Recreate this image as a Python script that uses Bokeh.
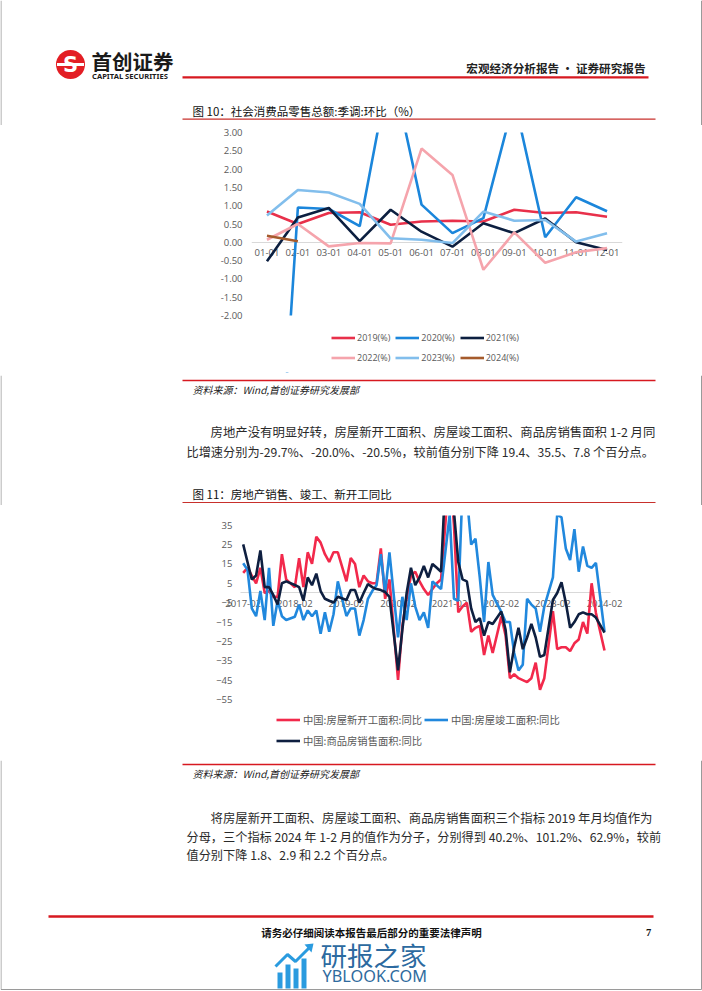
from bokeh.plotting import figure
from bokeh.models import (Range1d, FactorRange, FixedTicker, Legend, LegendItem,
                          ColumnDataSource, PrintfTickFormatter, BoxAnnotation)
from bokeh.layouts import column
from bokeh.embed import file_html
from bokeh.resources import INLINE
from bokeh.core.properties import value

W = 702
CJK = "Noto Sans CJK SC"
LAT = "Open Sans"
GRAY = "#595959"
RED = "#D71920"

# ---------------- Chart 1 data: 社会消费品零售总额:季调:环比 (%) ----------------
months1 = ["01-01", "02-01", "03-01", "04-01", "05-01", "06-01",
           "07-01", "08-01", "09-01", "10-01", "11-01", "12-01"]
y1_ticks = [-2.0, -1.5, -1.0, -0.5, 0.0, 0.5, 1.0, 1.5, 2.0, 2.5, 3.0]
s2019 = [0.84, 0.50, 0.80, 0.82, 0.48, 0.57, 0.59, 0.57, 0.89, 0.80, 0.82, 0.70]
s2020 = [-12.0, 0.95, 0.91, 0.44, 4.90, 1.03, 0.25, 0.66, 3.90, 0.14, 1.23, 0.85]
s2021 = [-0.52, 0.68, 0.94, 0.03, 0.89, 0.29, -0.12, 0.52, 0.25, 0.65, 0.00, -0.21]
s2022 = [0.07, 0.50, -0.11, -0.02, -0.03, 2.56, 1.84, -0.75, 0.27, -0.56, -0.27, -0.16]
s2023 = [0.73, 1.43, 1.36, 1.05, 0.11, 0.07, -0.02, 0.84, 0.59, 0.61, 0.02, 0.25]
s2024 = [0.18, 0.03]
names1 = ["2019(%)", "2020(%)", "2021(%)", "2022(%)", "2023(%)", "2024(%)"]
colors1 = ["#E8304A", "#1B86DB", "#0C1F40", "#F5A4AC", "#82BEEC", "#A55B2C"]

# ---------------- Chart 2 data: 房地产销售、竣工、新开工同比 (%) ----------------
# monthly periods, January merged into February (no January points)
periods2 = [f"{y}-{m:02d}" for y in range(2017, 2024) for m in range(2, 13)] + ["2024-02"]
x2_labels = ["2017-02", "2018-02", "2019-02", "2020-02", "2021-02", "2022-02", "2023-02", "2024-02"]
y2_ticks = [-55, -45, -35, -25, -15, -5, 5, 15, 25, 35]
new_start = [
    10.4, 13, 9, 5, 13, 0, 1, -2, -2, 20, 7,            # 2017
    2.9, 18, 3, 21, 15, 29, 26, 20, 16, 21, 21,         # 2018
    6.0, 18, 15, 3, 9, 6, 5, 5, 23, -3, 7,              # 2019
    -44.9, -17, -3, 9, 11, 6, 2, -1, 2, 5, 7,           # 2020
    64.3, 35, -10, -7, -5, -20, -18, -17, -32, -22, -31,  # 2021
    -12.2, -22, -44, -42, -44, -45, -46, -44, -36, -50, -44,  # 2022
    -9.4, -29, -28, -28, -30, -26, -24, -15, -21, 5, -10.3,   # 2023
    -29.7]                                              # 2024
completed = [
    15.3, 12, -8, -12, 1, -14, 13, -17, -4, -12, -14,
    -12.3, -6, -14, -9, -12, -9, -21, -10, -20, -11, 6,
    -11.9, -8, -8, -22, -14, -3, 1, 4, 20, 0, 21,
    -22.9, -2, -14, 5, -7, -14, -10, -18, 6, 4, 2,
    40.4, -3, -4, 55, 50, 25, 28, 8, -15, 16, -1,
    -9.8, -15, -15, -31, -40, -37, -3, -6, -8, -20, -7,
    8.0, 40.5, 39, 23, 17, 33, 11, 24, 14, 13, 15.5,
    -20.0]
sales = [
    25.1, 16, 7, 9, 22, 3, 3, -1, -6, 5, 6,
    4.1, 3, -4, 8, 4, 10, 1, -3, -4, -5, -2,
    -3.6, 1.5, 1.5, -5, 0, 4.6, 3, 2, 1.5, 0.5, -2,
    -39.9, -19, 0, 13, 4, 8, 14, 8, 15, 13, 11,
    104.9, 42, 16, 7, 6, -8, -15, -13, -22, -15, -16,
    -9.6, -19, -41, -28, -18, -29, -23, -16, -23, -33, -32,
    -3.6, 0, 5.5, -5, -18, -15, -11, -10, -11, -11, -12.7,
    -20.5]
names2 = ["中国:房屋新开工面积:同比", "中国:房屋竣工面积:同比", "中国:商品房销售面积:同比"]
colors2 = ["#F2294B", "#2188DD", "#0E1F40"]


def month_pos(p):
    return (int(p[:4]) - 2017) * 12 + int(p[5:7]) - 2


# ---------------- helpers for page decoration ----------------
def decor(top, height):
    p = figure(width=W, height=height, x_range=Range1d(0, W),
               y_range=Range1d(top + height, top), output_backend="svg",
               toolbar_location=None, min_border=0, x_axis_type=None, y_axis_type=None,
               frame_align=False)
    p.outline_line_color = None
    p.background_fill_color = "white"
    p.border_fill_color = "white"
    return p


def txt(p, x, y, s, size, color="#111111", font=CJK, style="normal", align="left"):
    p.text(x=[x], y=[y], text=[s], text_font=value(font), text_font_size=f"{size}px",
           text_font_style=style, text_color=color, text_align=align,
           text_baseline="middle")


def hline(p, x0, x1, y, color, width):
    p.segment(x0=[x0], y0=[y], x1=[x1], y1=[y], line_color=color, line_width=width)


def borders(p, y0, y1):
    p.segment(x0=[0.5, 701.0], y0=[y0, y0], x1=[0.5, 701.0], y1=[y1, y1],
              line_color="#9a9a9a", line_width=1)


def style_axis(ax, standoff):
    ax.major_tick_line_color = None
    ax.minor_tick_line_color = None
    ax.major_tick_out = 0
    ax.major_tick_in = 0
    ax.minor_tick_out = 0
    ax.minor_tick_in = 0
    ax.major_label_text_color = GRAY
    ax.major_label_text_font = LAT
    ax.major_label_text_font_size = "9.5px"
    ax.major_label_standoff = standoff


# ---------------- F0: header ----------------
f0 = decor(0, 125)
borders(f0, 0, 125)
f0.circle(x=[70], y=[64], radius=14.5, fill_color="#E31E24", line_color=None)
f0.quad(left=[56.5], right=[83.5], top=[62.6], bottom=[65.4], fill_color="white", line_color=None)
txt(f0, 70, 64.5, "S", 21, color="white", font="DejaVu Sans", style="bold", align="center")
txt(f0, 91, 60, "首创证券", 20.5, color="#1a1a1a", style="bold")
txt(f0, 91.5, 75, "CAPITAL SECURITIES", 7.6, color="#1a1a1a", font="Noto Sans", style="bold")
hline(f0, 182, 648, 76.8, RED, 2.2)
txt(f0, 645, 67, "宏观经济分析报告 · 证券研究报告", 11.6, color="#222222", style="bold", align="right")
txt(f0, 192, 110, "图 10：社会消费品零售总额:季调:环比（%）", 11.5, color="#111111")
hline(f0, 182, 655, 118.7, "#C8302C", 1.2)

# ---------------- F1: chart 1 (frame 251..622 x 132..372 px; -2 sits at 315 px) ----------------
f1 = figure(width=W, height=250, x_range=FactorRange(*months1), y_range=Range1d(-3.557, 3),
            output_backend="svg", toolbar_location=None, frame_align=False,
            min_border_left=251, min_border_right=80, min_border_top=7, min_border_bottom=3)
f1.outline_line_color = None
f1.grid.visible = False
f1.border_fill_color = "white"
series1 = [s2019, s2020, s2021, s2022, s2023, s2024]
items1 = []
for name, vals, col in zip(names1, series1, colors1):
    src = ColumnDataSource(dict(x=months1[:len(vals)], y=vals))
    r = f1.line("x", "y", source=src, line_color=col, line_width=2.6)
    items1.append(LegendItem(label=name, renderers=[r]))
# plot area ends at the axis minimum (-2): mask below it
f1.add_layout(BoxAnnotation(top=-2, fill_color="white", fill_alpha=1, line_color=None))
f1.yaxis.ticker = FixedTicker(ticks=y1_ticks)
f1.yaxis.formatter = PrintfTickFormatter(format="%.2f")
style_axis(f1.xaxis, 7)
style_axis(f1.yaxis, 9)
f1.yaxis.axis_line_color = None
f1.xaxis.fixed_location = 0
f1.xaxis.axis_line_color = "#D9D9D9"
f1.xaxis.level = "underlay"
leg1 = Legend(items=items1, ncols=3, orientation="horizontal", location=(80, 7),
              border_line_color=None, background_fill_alpha=0, padding=0, margin=0,
              spacing=5, glyph_width=24, glyph_height=15, label_height=15,
              label_width=0, label_standoff=2, label_text_font=LAT,
              label_text_font_size="9px", label_text_color=GRAY)
f1.add_layout(leg1)

# ---------------- F2: source + paragraph + title 11 ----------------
f2 = decor(375, 130)
borders(f2, 375, 505)
hline(f2, 182, 655, 380, RED, 1.5)
txt(f2, 192, 389, "资料来源：Wind,首创证券研究发展部", 10, color="#222222", style="italic")
txt(f2, 210, 431, "房地产没有明显好转，房屋新开工面积、房屋竣工面积、商品房销售面积 1-2 月同",
    12.4, color="#2a2a2a")
txt(f2, 186, 451, "比增速分别为-29.7%、-20.0%、-20.5%，较前值分别下降 19.4、35.5、7.8 个百分点。",
    12.2, color="#2a2a2a")
txt(f2, 192, 493, "图 11：房地产销售、竣工、新开工同比", 11.5, color="#111111")
hline(f2, 182, 655, 502, "#C8302C", 1.2)

# ---------------- F3: chart 2 ----------------
# frame spans x 210..638 px and y 515..757 px; axis area 240..610 px, 40..-55 over 515..699 px
x2 = [month_pos(p) for p in periods2]
f3 = figure(width=W, height=255, x_range=Range1d(-7.6, 91.9), y_range=Range1d(-84.95, 40),
            output_backend="svg", toolbar_location=None, frame_align=False,
            min_border_left=210, min_border_right=64, min_border_top=10, min_border_bottom=3)
f3.outline_line_color = None
f3.grid.visible = False
f3.border_fill_color = "white"
items2 = []
for name, vals, col in zip(names2, [new_start, completed, sales], colors2):
    src = ColumnDataSource(dict(x=x2, y=vals))
    r = f3.line("x", "y", source=src, line_color=col, line_width=2.6)
    items2.append(LegendItem(label=name, renderers=[r]))
f3.yaxis.ticker = FixedTicker(ticks=y2_ticks)
tick_pos = [month_pos(s) for s in x2_labels]
f3.xaxis.ticker = FixedTicker(ticks=tick_pos)
f3.xaxis.major_label_overrides = {t: s for t, s in zip(tick_pos, x2_labels)}
style_axis(f3.xaxis, 7)
style_axis(f3.yaxis, 8)
f3.yaxis.axis_line_color = None
f3.yaxis.fixed_location = -0.63
f3.xaxis.fixed_location = 0
f3.xaxis.bounds = (-0.63, 85.4)
f3.xaxis.axis_line_color = "#D9D9D9"
f3.xaxis.level = "underlay"
leg2 = Legend(items=items2, ncols=2, orientation="horizontal", location=(66, 7),
              border_line_color=None, background_fill_alpha=0, padding=0, margin=0,
              spacing=2, glyph_width=24, glyph_height=19, label_height=19,
              label_width=0, label_standoff=3, label_text_font=CJK,
              label_text_font_size="10.3px", label_text_color=GRAY)
f3.add_layout(leg2)

# ---------------- F4: source, paragraph, footer ----------------
f4 = decor(760, 231)
borders(f4, 760, 989)
hline(f4, 0.5, 701, 989, "#9a9a9a", 1)
hline(f4, 182, 655, 764, RED, 1.5)
txt(f4, 192, 773, "资料来源：Wind,首创证券研究发展部", 10, color="#222222", style="italic")
txt(f4, 210, 817, "将房屋新开工面积、房屋竣工面积、商品房销售面积三个指标 2019 年月均值作为",
    12.4, color="#2a2a2a")
txt(f4, 186, 836, "分母，三个指标 2024 年 1-2 月的值作为分子，分别得到 40.2%、101.2%、62.9%，较前",
    12.2, color="#2a2a2a")
txt(f4, 186, 854, "值分别下降 1.8、2.9 和 2.2 个百分点。", 12.2, color="#2a2a2a")
hline(f4, 48, 653, 916, RED, 2.6)
txt(f4, 371, 932, "请务必仔细阅读本报告最后部分的重要法律声明", 10.5, color="#111111",
    style="bold", align="center")
txt(f4, 648, 932, "7", 10.5, color="#111111", font="Liberation Serif", style="bold", align="center")
# watermark
f4.quad(left=[277, 285, 293, 301], right=[282, 290, 298, 306],
        top=[972, 964, 968, 958], bottom=[988, 988, 988, 988],
        fill_color="#2A9BDF", line_color=None)
f4.line(x=[275, 287, 295, 309], y=[966, 954, 961, 947], line_color="#2A9BDF", line_width=3)
f4.patch(x=[304, 313, 311], y=[944, 943, 952], fill_color="#2A9BDF", line_color=None)
txt(f4, 320, 954, "研报之家", 26.5, color="#2C6AA0")
txt(f4, 322, 975, "YBLOOK.COM", 16.3, color="#2F6B9E", font="Noto Sans")

page = column(f0, f1, f2, f3, f4, spacing=0)
open("out.html", "w").write(file_html(page, INLINE, title="chart"))
